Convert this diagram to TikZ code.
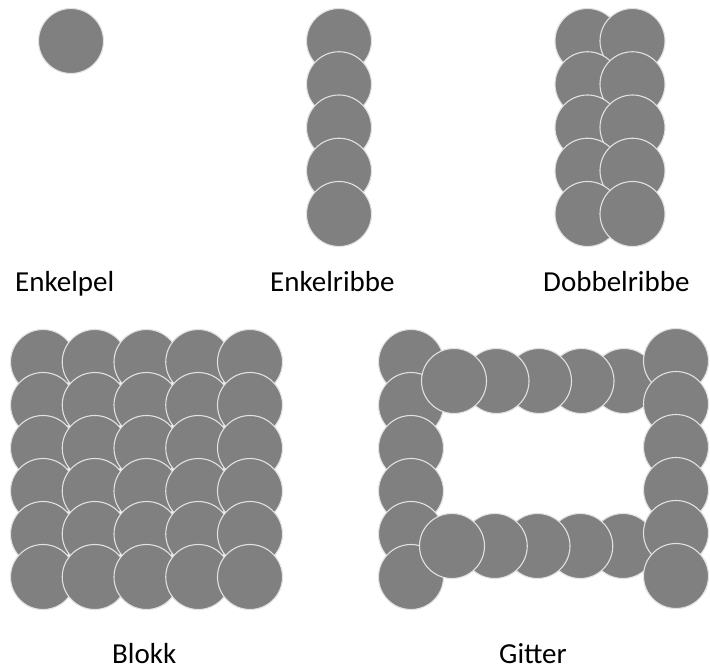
\documentclass[tikz,border=0pt]{standalone}
\usepackage{fontspec}
\setmainfont{Carlito}
\definecolor{kulegraa}{RGB}{128,128,128}
\definecolor{kantlys}{RGB}{225,225,225}
\begin{document}
\begin{tikzpicture}[
				x=1pt, y=-1pt,
				ball/.style={circle, fill=kulegraa, draw=kantlys, line width=1.1pt, inner sep=0pt, minimum size=65pt},
				navn/.style={anchor=base west, inner sep=0pt, font=\fontsize{29}{34}\selectfont}
				]
				\useasboundingbox (0,0) rectangle (710,668);
				% Enkelpel
				\node[ball] (pel) at (71,41) {};
				% Enkelribbe
				\foreach \r in {0,...,4}
					\node[ball] (ribbe-\r) at (339,41+43.25*\r) {};
				% Dobbelribbe
				\foreach \r in {0,...,4}
					\foreach \c in {0,1}
						\node[ball] (dobbel-\r-\c) at (587.5+45*\c,41+43.25*\r) {};
				% Blokk
				\foreach \r in {0,...,5}
					\foreach \c in {0,...,4}
						\node[ball] (blokk-\r-\c) at (43+51.75*\c,362+43*\r) {};
				% Gitter
				\foreach \r in {0,...,5}
					\node[ball] (gitter-v-\r) at (411,362+43*\r) {};
				\foreach \c in {4,3,...,0}{
					\node[ball] (gitter-o-\c) at (454+42.5*\c,381) {};
					\node[ball] (gitter-n-\c) at (452+42.75*\c,546) {};
				}
				\foreach \r in {0,...,5}
					\node[ball] (gitter-h-\r) at (676,361+43*\r) {};
				% Navn
				\node[navn] (enkelpel) at (15,292) {Enkelpel};
				\node[navn] (enkelribbe) at (270,292) {Enkelribbe};
				\node[navn] (dobbelribbe) at (543,292) {Dobbelribbe};
				\node[navn] (blokk) at (112,663) {Blokk};
				\node[navn] (gitter) at (499,663) {Gitter};
			\end{tikzpicture}
\end{document}
